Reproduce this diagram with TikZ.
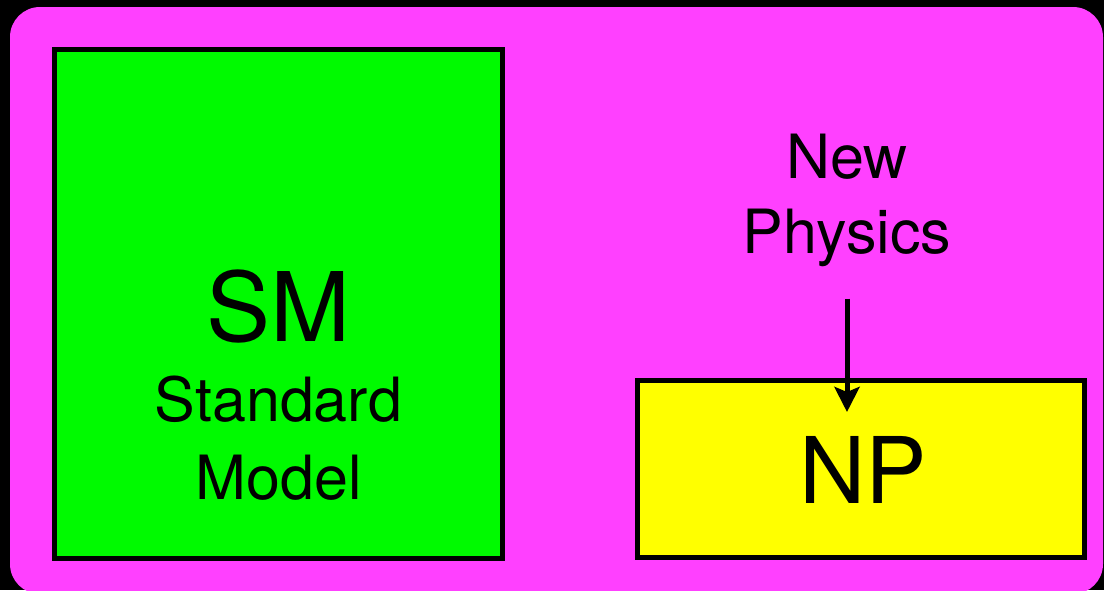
\documentclass[tikz,border=0pt]{standalone}
\usepackage{fontspec}
\setmainfont{TeX Gyre Heros}
\usetikzlibrary{arrows.meta}

\definecolor{panelmagenta}{RGB}{255,64,255}
\definecolor{smgreen}{RGB}{0,250,0}
\definecolor{npyellow}{RGB}{255,255,0}

\tikzset{
  boxframe/.style={draw=black, line width=5pt, rectangle, inner sep=0pt},
  bigtext/.style={anchor=base, inner sep=0pt, font=\fontsize{96}{96}\selectfont},
  smalltext/.style={anchor=base, inner sep=0pt, font=\fontsize{61}{61}\selectfont},
  feedarrow/.style={line width=5pt, -{Stealth[length=25pt, width=25pt, inset=5pt]}}
}

\begin{document}
\begin{tikzpicture}[x=1pt, y=-1pt]
  % page and backdrop
  \useasboundingbox (0,0) rectangle (1104,590);
  \fill[black] (0,0) rectangle (1104,590);
  \begin{scope}
    \clip (0,0) rectangle (1104,590);
    \fill[panelmagenta, rounded corners=30pt] (10,7) rectangle (1103,594);
  \end{scope}

  % Standard Model block
  \node[boxframe, fill=smgreen, minimum width=448pt, minimum height=509pt] (sm) at (278.5,304) {};
  \node[bigtext] (smlabel) at (278.5,341) {SM};
  \node[smalltext] (smline1) at (278.5,421) {Standard};
  \node[smalltext] (smline2) at (278.5,499) {Model};

  % New Physics block
  \node[boxframe, fill=npyellow, minimum width=447pt, minimum height=177pt] (np) at (861,469) {};
  \node[bigtext, font=\fontsize{92}{92}\selectfont] (nplabel) at (863,503) {NP};

  % incoming New Physics label and arrow
  \node[smalltext] (newline) at (847,178) {New};
  \node[smalltext] (physics) at (847,253) {Physics};
  \draw[feedarrow] ([yshift=-32pt]physics.south) -- ([yshift=-34pt]physics.south |- np.north);
\end{tikzpicture}
\end{document}
